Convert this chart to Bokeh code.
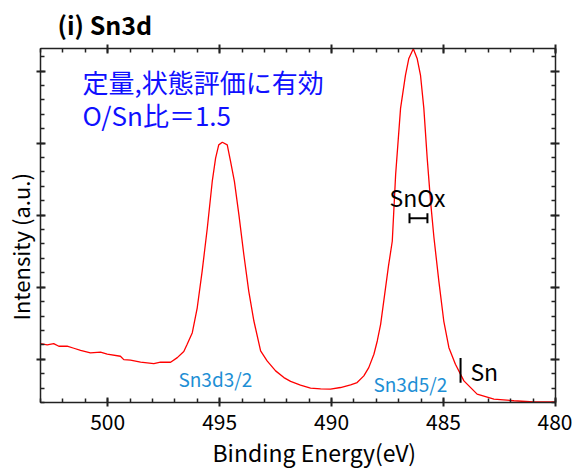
import numpy as np
from bokeh.plotting import figure
from bokeh.models import Label, LinearAxis, FixedTicker, Range1d, Title
from bokeh.embed import file_html
from bokeh.resources import INLINE

# ---- data ----
energy = [503.00, 502.70, 502.41, 502.18, 501.81, 501.51, 501.21, 500.77, 500.32, 500.02,
          499.43, 499.28, 498.98, 498.53, 497.94, 497.64, 497.19, 496.89, 496.60, 496.45,
          496.22, 496.00, 495.78, 495.55, 495.33, 495.18, 495.04, 494.88, 494.66, 494.51,
          494.34, 494.14, 493.92, 493.70, 493.47, 493.17, 492.88, 492.50, 492.13, 491.83,
          491.39, 490.94, 490.49, 490.05, 489.60, 489.15, 488.86, 488.56, 488.34, 488.11,
          487.96, 487.81, 487.64, 487.46, 487.29, 487.14, 486.92, 486.70, 486.55, 486.35,
          486.18, 486.03, 485.88, 485.73, 485.58, 485.43, 485.21, 484.99, 484.76, 484.47,
          484.09, 483.50, 482.75, 481.86, 480.97, 480.00]
intensity = [1.217, 1.199, 1.217, 1.181, 1.181, 1.153, 1.125, 1.088, 1.098, 1.070,
             1.042, 0.995, 0.987, 0.959, 0.940, 0.959, 0.959, 1.023, 1.109, 1.208,
             1.369, 1.715, 2.223, 2.822, 3.468, 3.791, 3.976, 4.012, 3.976, 3.745,
             3.468, 3.008, 2.454, 1.946, 1.531, 1.116, 0.977, 0.839, 0.746, 0.693,
             0.641, 0.599, 0.590, 0.585, 0.608, 0.645, 0.677, 0.770, 0.884, 1.070,
             1.254, 1.485, 1.877, 2.292, 2.638, 3.561, 4.483, 4.945, 5.175, 5.309,
             5.175, 4.945, 4.483, 3.791, 3.192, 2.693, 2.084, 1.531, 1.161, 0.931,
             0.700, 0.516, 0.447, 0.424, 0.407, 0.410]

x_major = [480, 485, 490, 495, 500]
x_minor = list(range(480, 504))
y_major = [1, 2, 3, 4, 5]
y_minor = [round(0.4 + 0.2 * i, 2) for i in range(25)]

# annotation marks
snox_bar = [486.52, 485.72]   # SnOx energy range
snox_level = 2.956
snox_cap = [2.887, 3.026]
sn_energy = 484.24
sn_span = [0.673, 1.019]

FONT = "Noto Sans CJK JP"

p = figure(width=572, height=470, x_range=Range1d(503, 480), y_range=Range1d(0.4, 5.3135),
           output_backend="svg", toolbar_location=None,
           min_border_left=40, min_border_right=17, min_border_top=47, min_border_bottom=68)
p.background_fill_color = "white"
p.border_fill_color = "white"
p.outline_line_color = "black"
p.outline_line_width = 1
p.xgrid.visible = False
p.ygrid.visible = False

p.line(energy, intensity, color="#ff0000", line_width=1.3)

# SnOx bracket
p.segment(x0=[snox_bar[0]], y0=[snox_level], x1=[snox_bar[1]], y1=[snox_level], color="black", line_width=2)
p.segment(x0=snox_bar, y0=[snox_cap[0]] * 2, x1=snox_bar, y1=[snox_cap[1]] * 2, color="black", line_width=2)
# Sn line
p.segment(x0=[sn_energy], y0=[sn_span[0]], x1=[sn_energy], y1=[sn_span[1]], color="black", line_width=2)

bottom_axis = p.below[0]
left_axis = p.left[0]
bottom_axis.ticker = FixedTicker(ticks=x_major, minor_ticks=x_minor)
left_axis.ticker = FixedTicker(ticks=y_major, minor_ticks=y_minor)
top_axis = LinearAxis(ticker=FixedTicker(ticks=x_major, minor_ticks=x_minor))
right_axis = LinearAxis(ticker=FixedTicker(ticks=y_major, minor_ticks=y_minor))
p.add_layout(top_axis, "above")
p.add_layout(right_axis, "right")

for ax in [bottom_axis, left_axis, top_axis, right_axis]:
    ax.axis_line_color = "#222222"
    ax.axis_line_width = 1.5
    ax.major_tick_in = 5
    ax.major_tick_out = 4
    ax.minor_tick_in = 4
    ax.minor_tick_out = 0
    ax.major_tick_line_color = "#222222"
    ax.minor_tick_line_color = "#222222"
    ax.major_tick_line_width = 2
    ax.minor_tick_line_width = 1.5
for ax, ticks in [(left_axis, y_major), (top_axis, x_major), (right_axis, y_major)]:
    ax.major_label_overrides = {t: "" for t in ticks}
    ax.major_label_standoff = 0
bottom_axis.major_label_text_font = FONT
bottom_axis.major_label_text_font_size = "21px"
bottom_axis.major_label_text_color = "black"
bottom_axis.major_label_standoff = 7

# axis titles and chart title as side titles
p.add_layout(Title(text="Binding Energy(eV)", align="left", offset=172, standoff=0,
                   text_font=FONT, text_font_size="23px", text_font_style="normal",
                   text_color="black"), "below")
p.add_layout(Title(text="Intensity (a.u.)", align="left", offset=82, standoff=2,
                   text_font=FONT, text_font_size="22px", text_font_style="normal",
                   text_color="black"), "left")
p.add_layout(Title(text="(i) Sn3d", align="left", offset=17, standoff=6,
                   text_font=FONT, text_font_size="25px", text_font_style="bold",
                   text_color="black"), "above")

def lab(x, y, text, size, color="black"):
    p.add_layout(Label(x=x, y=y, text=text, text_font=FONT, text_font_size=size,
                       text_color=color, text_align="left", text_baseline="middle"))

lab(501.12, 4.853, "定量,状態評価に有効", "26px", color="#1010ff")
lab(501.12, 4.396, "O/Sn比＝1.5", "26px", color="#1010ff")
lab(496.84, 0.73, "Sn3d3/2", "19px", color="#1e8fd5")
lab(488.13, 0.66, "Sn3d5/2", "19px", color="#1e8fd5")
lab(487.41, 3.25, "SnOx", "23px")
lab(483.80, 0.84, "Sn", "23px")

open("out.html", "w").write(file_html(p, INLINE))
